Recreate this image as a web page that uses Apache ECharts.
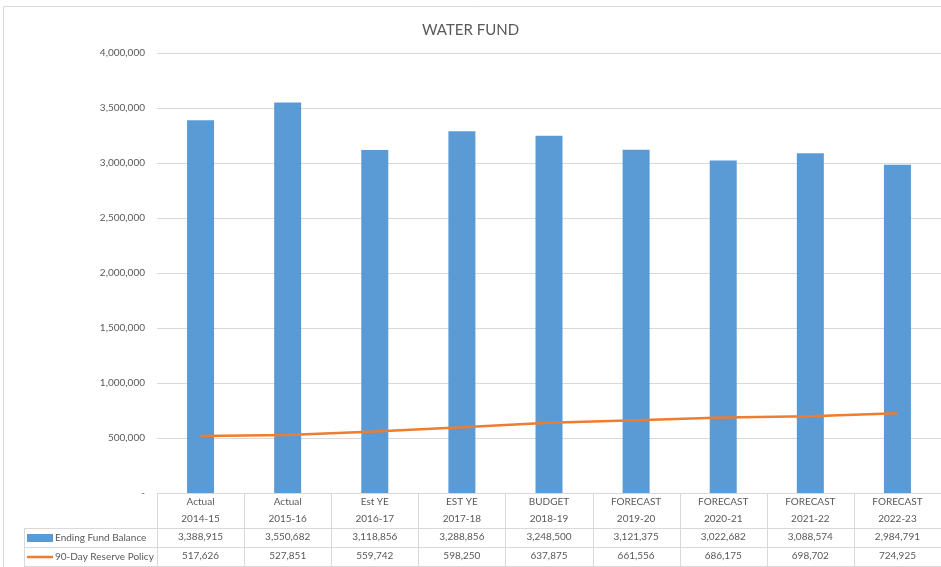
<!DOCTYPE html>
<html>
<head>
<meta charset="utf-8">
<script src="https://cdn.jsdelivr.net/npm/echarts@6/dist/echarts.min.js"></script>
<style>
  html, body { margin: 0; padding: 0; background: #fff; }
  #chart { width: 941px; height: 567px; }
</style>
</head>
<body>
<div id="chart"></div>
<script>
// Category rows of the data table
const periodTypes = ['Actual', 'Actual', 'Est YE', 'EST YE', 'BUDGET', 'FORECAST', 'FORECAST', 'FORECAST', 'FORECAST'];
const fiscalYears = ['2014-15', '2015-16', '2016-17', '2017-18', '2018-19', '2019-20', '2020-21', '2021-22', '2022-23'];

// Series values
const endingFundBalance = [3388915, 3550682, 3118856, 3288856, 3248500, 3121375, 3022682, 3088574, 2984791];
const reservePolicy = [517626, 527851, 559742, 598250, 637875, 661556, 686175, 698702, 724925];

// Value axis ticks
const yMin = 0, yMax = 4000000, yStep = 500000;

const seriesNames = ['Ending Fund Balance', '90-Day Reserve Policy'];

const textColor = '#595959';
const lineColor = '#d9d9d9';
const fontFamily = 'Lato, "Open Sans", sans-serif';

const fmt = v => v.toLocaleString('en-US');
const categories = periodTypes.map((p, i) => p + '\n' + fiscalYears[i]);

const chart = echarts.init(document.getElementById('chart'), null, { renderer: 'canvas' });

const gridTop = 53, gridBottom = 493, gridLeft = 157;

// one legend per table row so each key sits in its own row
const legendRow = (name, top, icon) => ({
  orient: 'horizontal',
  left: 27,
  top: top,
  padding: 0,
  itemWidth: 26,
  itemHeight: 8,
  textStyle: { fontFamily: fontFamily, fontSize: 10, color: textColor, padding: [0, 0, 0, -3] },
  data: [{ name: name, icon: icon }]
});

const option = {
  animation: false,
  backgroundColor: '#fff',
  textStyle: { fontFamily: fontFamily },
  title: {
    text: 'WATER FUND',
    left: 'center',
    top: 18,
    textStyle: { fontFamily: fontFamily, fontSize: 15, fontWeight: 'normal', color: textColor }
  },
  legend: [
    legendRow(seriesNames[0], 533, 'rect'),
    legendRow(seriesNames[1], 552, 'path://M0,0 L26,0 L26,2.5 L0,2.5 Z')
  ],
  grid: { left: gridLeft, right: 0, top: gridTop, height: gridBottom - gridTop },
  xAxis: [
    {
      type: 'category',
      data: categories,
      axisLine: { show: true, lineStyle: { color: lineColor } },
      axisTick: { show: false },
      axisLabel: { margin: 0, fontFamily: fontFamily, fontSize: 10, color: textColor, lineHeight: 17 }
    },
    {
      type: 'category',
      position: 'bottom',
      offset: 35,
      data: endingFundBalance.map(fmt),
      axisLine: { show: false },
      axisTick: { show: false },
      axisLabel: { margin: 4, fontFamily: fontFamily, fontSize: 10, color: textColor }
    },
    {
      type: 'category',
      position: 'bottom',
      offset: 54,
      data: reservePolicy.map(fmt),
      axisLine: { show: false },
      axisTick: { show: false },
      axisLabel: { margin: 4, fontFamily: fontFamily, fontSize: 10, color: textColor }
    }
  ],
  yAxis: {
    type: 'value',
    min: yMin,
    max: yMax,
    interval: yStep,
    axisLine: { show: false },
    axisTick: { show: false },
    splitLine: { lineStyle: { color: lineColor } },
    axisLabel: {
      margin: 12,
      fontFamily: fontFamily,
      fontSize: 10,
      color: textColor,
      formatter: v => (v === 0 ? '-' : fmt(v))
    }
  },
  series: [
    {
      name: seriesNames[0],
      type: 'bar',
      xAxisIndex: 0,
      data: endingFundBalance,
      barWidth: 27,
      itemStyle: { color: '#5B9BD5' }
    },
    {
      name: seriesNames[1],
      type: 'line',
      xAxisIndex: 0,
      data: reservePolicy,
      symbol: 'none',
      lineStyle: { color: '#ED7D31', width: 2.5 },
      itemStyle: { color: '#ED7D31' }
    }
  ]
};

chart.setOption(option);

// Data table borders, placed from the category axis band positions
const x0 = chart.convertToPixel({ xAxisIndex: 0 }, 0);
const x1 = chart.convertToPixel({ xAxisIndex: 0 }, 1);
const band = x1 - x0;
const rowTops = [gridBottom, 528, 547, 566];
const tableLeft = 24;
const lines = [];
const ln = (xa, ya, xb, yb) => lines.push({
  type: 'line',
  shape: { x1: xa, y1: ya, x2: xb, y2: yb },
  style: { stroke: lineColor, lineWidth: 1 },
  silent: true
});
for (let i = 0; i <= categories.length; i++) {
  const x = Math.round(x0 - band / 2 + i * band) + 0.5;
  ln(x, rowTops[0], x, rowTops[3]);
}
ln(tableLeft + 0.5, rowTops[1], tableLeft + 0.5, rowTops[3]);
ln(tableLeft, rowTops[1] + 0.5, 941, rowTops[1] + 0.5);
ln(tableLeft, rowTops[2] + 0.5, 941, rowTops[2] + 0.5);
ln(tableLeft, rowTops[3] + 0.5, 941, rowTops[3] + 0.5);
// outer chart frame
lines.push({
  type: 'rect',
  shape: { x: 3.5, y: 6.5, width: 980, height: 620 },
  style: { fill: null, stroke: lineColor, lineWidth: 1 },
  silent: true
});

chart.setOption({ graphic: { elements: lines } });
</script>
</body>
</html>
